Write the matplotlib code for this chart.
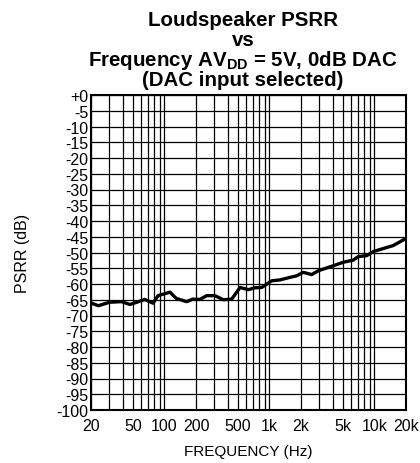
import numpy as np
import matplotlib
matplotlib.use('Agg')
from matplotlib import pyplot as plt
from matplotlib.ticker import FixedLocator, NullFormatter

plt.rcParams['font.family'] = ['Liberation Sans', 'DejaVu Sans']
plt.rcParams['mathtext.fontset'] = 'custom'
plt.rcParams['mathtext.rm'] = 'Liberation Sans:bold'
plt.rcParams['mathtext.bf'] = 'Liberation Sans:bold'

freq = [20.3, 23.5, 30, 39, 47, 54.5, 65, 78, 87, 113, 130, 163, 187, 218, 253, 303,
        364, 438, 525, 630, 730, 845, 1050, 1260, 1570, 1820, 2100, 2530, 2920, 4060,
        5060, 6300, 7030, 8450, 9770, 11700, 15100, 19600]
psrr = [-66.1, -66.9, -65.8, -65.6, -66.5, -65.8, -64.9, -66.1, -63.7, -62.6, -64.6,
        -65.6, -64.8, -64.9, -63.7, -63.7, -65.0, -64.8, -61.1, -61.8, -61.2, -61.1,
        -59.0, -58.7, -57.9, -57.4, -56.3, -57.0, -55.8, -54.2, -53.1, -52.4, -51.3,
        -51.0, -49.7, -48.9, -47.8, -45.7]

x_ticks = [20, 50, 100, 200, 500, 1000, 2000, 5000, 10000, 20000]
x_labels = ['20', '50', '100', '200', '500', '1k', '2k', '5k', '10k', '20k']
y_ticks = list(range(0, -105, -5))
y_labels = ['+0'] + [str(v) for v in y_ticks[1:]]

fig = plt.figure(figsize=(4.2, 4.64), dpi=100)
ax = fig.add_axes([91 / 420, 1 - 411 / 464, 315 / 420, 315 / 464])

ax.plot(freq, psrr, color='black', lw=2.4, solid_joinstyle='round', zorder=3)

ax.set_xscale('log')
ax.set_xlim(20, 20000)
ax.set_ylim(-100, 0)

grid_x = []
for dec in [10, 100, 1000, 10000]:
    for m in range(1, 10):
        v = m * dec
        if 20 <= v <= 20000:
            grid_x.append(v)
ax.xaxis.set_major_locator(FixedLocator(x_ticks))
ax.xaxis.set_minor_locator(FixedLocator(grid_x))
ax.xaxis.set_minor_formatter(NullFormatter())
ax.set_xticklabels(x_labels)
ax.set_yticks(y_ticks)
ax.set_yticklabels(y_labels)
ax.grid(True, which='both', axis='x', color='black', lw=0.9)
ax.grid(True, which='major', axis='y', color='black', lw=0.9)
ax.tick_params(which='both', length=0, labelsize=11.5, pad=2)
ax.tick_params(axis='x', pad=6)
for s in ax.spines.values():
    s.set_linewidth(1.5)

ax.set_xlabel('FREQUENCY (Hz)', fontsize=11, labelpad=8)
ax.set_ylabel('PSRR (dB)', fontsize=11.5, labelpad=19)

title_lines = ['Loudspeaker PSRR', 'vs',
               r'Frequency AV$_{\mathrm{DD}}$ = 5V, 0dB DAC',
               '(DAC input selected)']
title_base = [25.5, 46, 65.5, 86.5]
for line, y in zip(title_lines, title_base):
    fig.text(243 / 420, 1 - y / 464, line, ha='center', va='baseline',
             fontsize=14.8, fontweight='bold')

plt.savefig('out.png', dpi=100)
plt.close()
